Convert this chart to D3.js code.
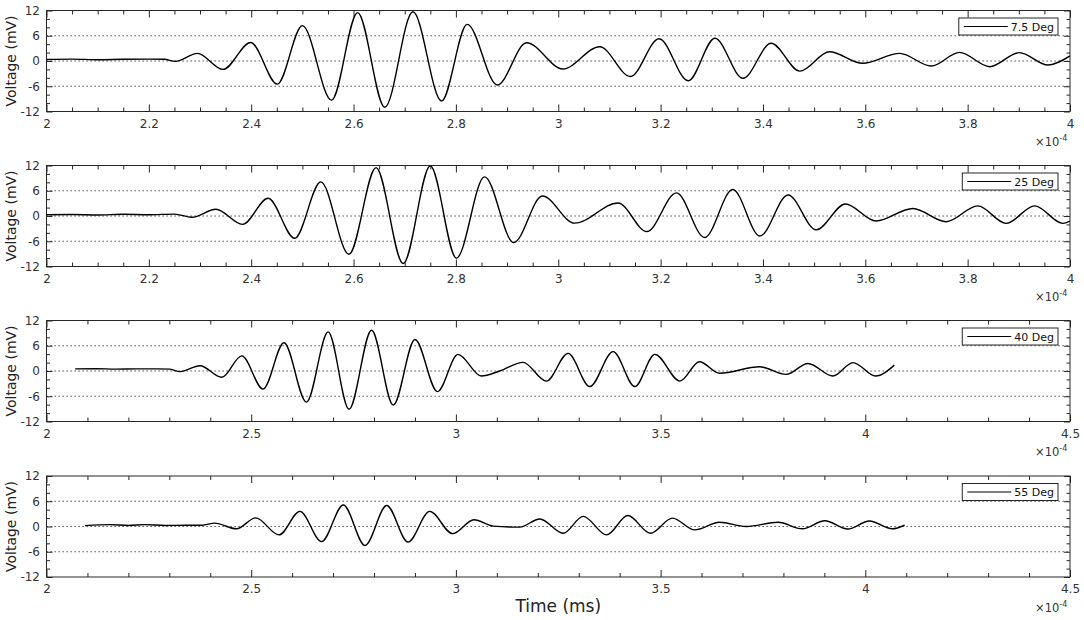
<!DOCTYPE html>
<html><head><meta charset="utf-8">
<script src="https://cdn.jsdelivr.net/npm/d3@7"></script>
<style>body{margin:0;background:#fff;} svg{display:block;font-family:"DejaVu Sans",sans-serif;}</style>
</head><body><svg id="c" width="1084" height="620"></svg>
<script>
// ---- data (local extrema) ----
const seriesLabels = ["7.5 Deg", "25 Deg", "40 Deg", "55 Deg"];
const xDomains = [[2, 4], [2, 4], [2, 4.5], [2, 4.5]];
const xMajorSteps = [0.2, 0.2, 0.5, 0.5];
const xMinorSteps = [0.05, 0.05, 0.1, 0.1];
const yTickValues = [-12, -6, 0, 6, 12];
const yGridValues = [-6, 0, 6];
const yMinorStep = 2;
const xExponentLabel = "-4";

const time75 = [2.0, 2.05, 2.1, 2.15, 2.2, 2.23, 2.252, 2.295, 2.345, 2.399, 2.451, 2.500, 2.557, 2.608, 2.661, 2.716, 2.772, 2.822, 2.881, 2.938, 3.009, 3.081, 3.141, 3.197, 3.254, 3.306, 3.361, 3.416, 3.472, 3.530, 3.595, 3.667, 3.729, 3.784, 3.843, 3.901, 3.957, 4.0];
const volt75 = [0.35, 0.45, 0.3, 0.4, 0.45, 0.4, -0.1, 1.8, -2.0, 4.4, -5.5, 8.4, -9.3, 11.5, -11.0, 11.7, -9.5, 8.7, -5.7, 4.35, -1.9, 3.4, -3.7, 5.3, -4.7, 5.4, -4.1, 4.2, -2.4, 2.2, -0.55, 1.8, -1.2, 2.05, -1.35, 2.0, -0.95, 1.2];

const time25 = [2.0, 2.05, 2.1, 2.15, 2.2, 2.25, 2.284, 2.331, 2.383, 2.433, 2.485, 2.536, 2.591, 2.644, 2.697, 2.750, 2.801, 2.856, 2.913, 2.969, 3.032, 3.117, 3.173, 3.231, 3.286, 3.341, 3.394, 3.449, 3.504, 3.561, 3.621, 3.693, 3.758, 3.820, 3.875, 3.931, 3.986, 4.0];
const volt25 = [0.3, 0.35, 0.25, 0.4, 0.3, 0.45, -0.3, 1.6, -2.0, 4.2, -5.3, 8.1, -9.1, 11.5, -11.3, 11.9, -10.0, 9.3, -6.3, 4.75, -1.7, 3.1, -3.7, 5.5, -5.1, 6.3, -4.75, 5.0, -3.3, 2.85, -1.2, 1.8, -1.35, 2.4, -1.75, 2.4, -1.75, -1.2];

const time40 = [2.07, 2.12, 2.17, 2.22, 2.27, 2.30, 2.326, 2.375, 2.428, 2.477, 2.529, 2.580, 2.635, 2.688, 2.739, 2.794, 2.847, 2.900, 2.955, 3.005, 3.062, 3.107, 3.164, 3.221, 3.274, 3.327, 3.384, 3.437, 3.486, 3.547, 3.595, 3.644, 3.742, 3.807, 3.860, 3.921, 3.970, 4.025, 4.071];
const volt40 = [0.5, 0.55, 0.45, 0.5, 0.5, 0.45, -0.15, 1.25, -1.5, 3.6, -4.3, 6.7, -7.4, 9.3, -9.1, 9.7, -8.1, 7.5, -4.9, 3.95, -1.2, 0.0, 2.05, -2.4, 4.2, -3.7, 4.6, -3.7, 3.95, -2.4, 2.2, -0.55, 1.0, -0.8, 1.8, -1.2, 2.0, -1.2, 1.4];

const time55 = [2.094, 2.155, 2.2, 2.24, 2.29, 2.34, 2.38, 2.411, 2.464, 2.511, 2.568, 2.619, 2.672, 2.725, 2.778, 2.831, 2.883, 2.936, 2.992, 3.044, 3.091, 3.156, 3.205, 3.262, 3.311, 3.368, 3.420, 3.475, 3.529, 3.583, 3.644, 3.709, 3.787, 3.846, 3.901, 3.957, 4.010, 4.066, 4.096];
const volt55 = [0.2, 0.45, 0.25, 0.45, 0.25, 0.3, 0.3, 0.8, -0.55, 2.05, -2.0, 3.6, -3.6, 5.1, -4.5, 5.0, -3.7, 3.6, -1.7, 1.6, 0.1, -0.15, 1.8, -1.6, 2.4, -2.0, 2.6, -1.6, 2.0, -0.8, 1.0, 0.0, 1.0, -0.55, 1.35, -0.6, 1.3, -0.55, 0.3];

const seriesTimes = [time75, time25, time40, time55];
const seriesVolts = [volt75, volt25, volt40, volt55];

// ---- layout ----
const svg = d3.select("#c");
const X0 = 46.5, X1 = 1070;
const panelTops = [10.5, 165.5, 320.5, 476];
const PH = 101;
const axisColor = "#262626";

function stepTicks(dom, step) {
  const n = Math.round((dom[1] - dom[0]) / step);
  return d3.range(n + 1).map(i => +(dom[0] + i * step).toFixed(4));
}
const fmt = d => String(+d.toFixed(2));

seriesLabels.forEach((lab, i) => {
  const top = panelTops[i];
  const g = svg.append("g");
  const x = d3.scaleLinear().domain(xDomains[i]).range([X0, X1]);
  const y = d3.scaleLinear().domain([-12, 12]).range([top + PH, top]);

  // grid
  g.selectAll("line.grid").data(yGridValues).join("line")
    .attr("x1", X0).attr("x2", X1)
    .attr("y1", d => y(d)).attr("y2", d => y(d))
    .attr("stroke", "#3a3a3a").attr("stroke-width", 1)
    .attr("stroke-dasharray", "1.3,2.7");

  const major = stepTicks(xDomains[i], xMajorSteps[i]);
  const minor = stepTicks(xDomains[i], xMinorSteps[i]).filter(v => !major.some(m => Math.abs(m - v) < 1e-6));
  const yMinor = stepTicks([-12, 12], yMinorStep).filter(v => !yTickValues.includes(v));

  const clean = sel => { sel.select(".domain").remove(); sel.attr("color", axisColor); };

  g.append("g").attr("transform", `translate(0,${top + PH})`)
    .call(d3.axisBottom(x).tickValues(major).tickSizeInner(-7).tickSizeOuter(0).tickPadding(7.5).tickFormat(fmt))
    .call(clean).call(s => s.selectAll("text").attr("font-size", 12).attr("font-family", "DejaVu Sans").attr("fill", "#333"));
  g.append("g").attr("transform", `translate(0,${top + PH})`)
    .call(d3.axisBottom(x).tickValues(minor).tickSizeInner(-4).tickSizeOuter(0).tickFormat(""))
    .call(clean);
  g.append("g").attr("transform", `translate(0,${top})`)
    .call(d3.axisTop(x).tickValues(major).tickSizeInner(-7).tickSizeOuter(0).tickFormat(""))
    .call(clean);
  g.append("g").attr("transform", `translate(0,${top})`)
    .call(d3.axisTop(x).tickValues(minor).tickSizeInner(-4).tickSizeOuter(0).tickFormat(""))
    .call(clean);

  g.append("g").attr("transform", `translate(${X0},0)`)
    .call(d3.axisLeft(y).tickValues(yTickValues).tickSizeInner(-6).tickSizeOuter(0).tickPadding(6.5).tickFormat(d => String(d)))
    .call(clean).call(s => s.selectAll("text").attr("font-size", 12).attr("font-family", "DejaVu Sans").attr("fill", "#333"));
  g.append("g").attr("transform", `translate(${X0},0)`)
    .call(d3.axisLeft(y).tickValues(yMinor).tickSizeInner(-3.5).tickSizeOuter(0).tickFormat(""))
    .call(clean);
  g.append("g").attr("transform", `translate(${X1},0)`)
    .call(d3.axisRight(y).tickValues(yTickValues).tickSizeInner(-6).tickSizeOuter(0).tickFormat(""))
    .call(clean);
  g.append("g").attr("transform", `translate(${X1},0)`)
    .call(d3.axisRight(y).tickValues(yMinor).tickSizeInner(-3.5).tickSizeOuter(0).tickFormat(""))
    .call(clean);

  // box
  g.append("rect").attr("x", X0).attr("y", top).attr("width", X1 - X0).attr("height", PH)
    .attr("fill", "none").attr("stroke", axisColor).attr("stroke-width", 1);

  // waveform
  const pts = seriesTimes[i].map((t, k) => [t, seriesVolts[i][k]]);
  const clipId = "clip" + i;
  svg.append("clipPath").attr("id", clipId).append("rect")
    .attr("x", X0).attr("y", top).attr("width", X1 - X0).attr("height", PH);
  g.append("path").datum(pts)
    .attr("clip-path", `url(#${clipId})`)
    .attr("fill", "none").attr("stroke", "#000").attr("stroke-width", 1.4)
    .attr("d", d3.line().x(d => x(d[0])).y(d => y(d[1])).curve(d3.curveMonotoneX));

  // y label
  g.append("text").attr("transform", `translate(15.5,${top + PH / 2}) rotate(-90)`)
    .attr("text-anchor", "middle").attr("font-size", 14).attr("fill", "#222")
    .text("Voltage (mV)");

  // exponent label
  const ex = g.append("text").attr("x", 1035).attr("y", top + PH + 34.5)
    .attr("font-size", 11.5).attr("fill", "#333");
  ex.append("tspan").text("\u00d710");
  ex.append("tspan").attr("font-size", 8).attr("dy", -5).text(xExponentLabel);

  // legend
  const lg = g.append("g");
  const txt = lg.append("text").attr("x", 1054).attr("y", top + 20)
    .attr("text-anchor", "end").attr("font-size", 11).attr("fill", "#111").text(lab);
  const tw = txt.node().getComputedTextLength();
  const tStart = 1054 - tw;
  const lineLen = 44;
  const bx = tStart - 3 - lineLen - 5;
  lg.insert("rect", "text").attr("x", bx).attr("y", top + 7.5).attr("width", 1058 - bx).attr("height", 17)
    .attr("fill", "#fff").attr("stroke", axisColor).attr("stroke-width", 1);
  lg.append("line").attr("x1", bx + 5).attr("x2", bx + 5 + lineLen)
    .attr("y1", top + 16).attr("y2", top + 16).attr("stroke", "#000").attr("stroke-width", 1.2);
});

svg.append("text").attr("x", (X0 + X1) / 2).attr("y", 611.5).attr("text-anchor", "middle")
  .attr("font-size", 17).attr("fill", "#222").text("Time (ms)");
</script>
</body></html>
